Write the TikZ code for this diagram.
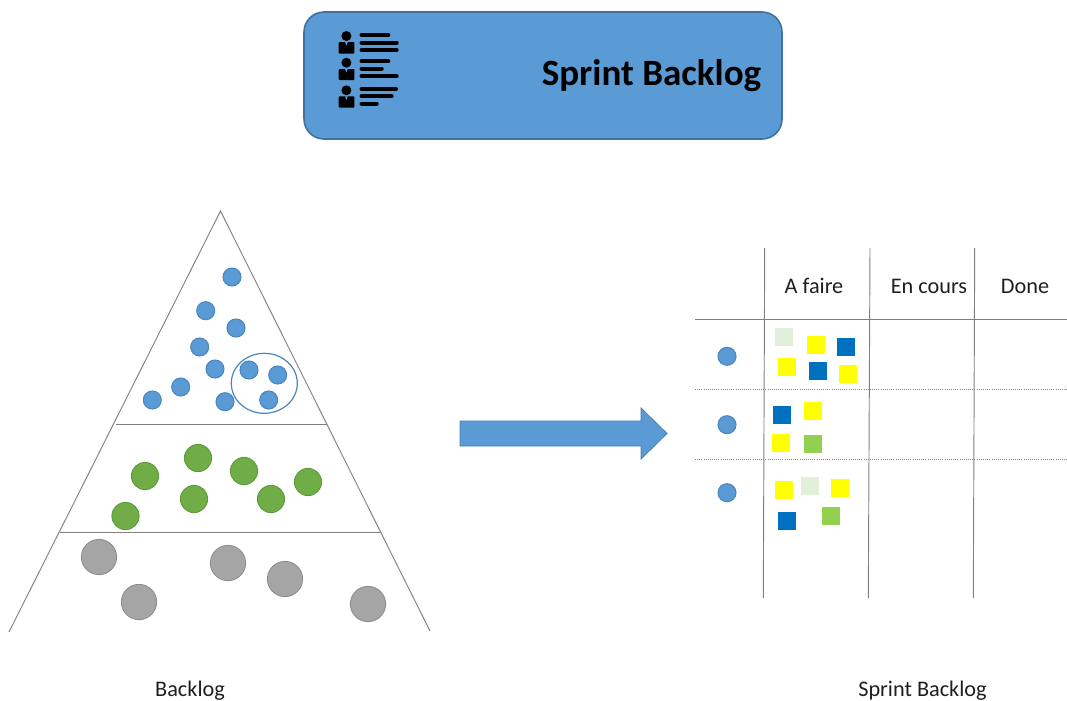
\documentclass[tikz,border=0pt]{standalone}
\usepackage{fontspec}
\setmainfont{Carlito}
\usetikzlibrary{shapes.geometric}
\definecolor{boxblue}{HTML}{5B9BD5}
\definecolor{boxedge}{HTML}{41719C}
\definecolor{dotedge}{HTML}{4A86BE}
\definecolor{greenfill}{HTML}{70AD47}
\definecolor{greenedge}{HTML}{5A9A3A}
\definecolor{greyfill}{HTML}{A5A5A5}
\definecolor{greyedge}{HTML}{8C8C8C}
\definecolor{notelight}{HTML}{E2EFDA}
\definecolor{noteyellow}{HTML}{FFFF00}
\definecolor{noteblue}{HTML}{0070C0}
\definecolor{notegreen}{HTML}{92D050}
\definecolor{linegrey}{HTML}{808080}
\tikzset{
  x=0.75pt,y=-0.75pt,
  blueitem/.style={circle,draw=dotedge,line width=0.8pt,fill=boxblue,minimum size=13.5pt,inner sep=0pt},
  greenitem/.style={circle,draw=greenedge,line width=0.6pt,fill=greenfill,minimum size=20.5pt,inner sep=0pt},
  greyitem/.style={circle,draw=greyedge,line width=0.6pt,fill=greyfill,minimum size=26.5pt,inner sep=0pt},
  note/.style={rectangle,fill=#1,minimum size=13.5pt,inner sep=0pt},
  gridline/.style={draw=linegrey,line width=0.7pt},
  rowline/.style={draw=linegrey,line width=0.6pt,densely dotted},
  tablabel/.style={font=\fontsize{16.7}{20}\selectfont,text=black!88,inner sep=0pt},
  iconline/.style={draw=black,line width=3pt,line cap=round},
}
\begin{document}
\begin{tikzpicture}
\useasboundingbox (0,0) rectangle (1067,700);
% header
\draw[boxedge,line width=1.2pt,fill=boxblue,rounded corners=15pt] (304,12) rectangle (782,139);
\node[anchor=east,font=\fontsize{27.8}{32}\selectfont\bfseries,inner sep=0pt] (title) at (761.5,76) {Sprint Backlog};
% icon
\foreach \hy/\ba/\bb/\la/\lb/\lc/\ea/\eb/\ec in {
  36/42/53.7/35/42.7/50/388.3/396.7/396.7,
  62.7/69/80/61.3/68.7/76.3/388.3/381.7/396.7,
  90.3/96.3/107.7/89/96.3/103.7/396/391.7/376.7}{
  \fill (346.4,\hy) circle[radius=5];
  \fill[rounded corners=0.6pt] (338.7,\ba) rectangle (354.3,\bb);
  \fill[boxblue] (345,\ba) -- (347.8,\ba) -- (346.4,\ba+3.5) -- cycle;
  \draw[iconline] (361.5,\la) -- (\ea,\la);
  \draw[iconline] (361.5,\lb) -- (\eb,\lb);
  \draw[iconline] (361.5,\lc) -- (\ec,\lc);
}
% pyramid
\coordinate (apex) at (220.5,211);
\coordinate (bl) at (9,632);
\coordinate (br) at (430,631);
\coordinate (l1a) at (115.5,424);
\coordinate (l1b) at (327,424);
\coordinate (l2a) at (60,532);
\coordinate (l2b) at (380.5,532);
\draw[gridline] (bl) -- (apex) -- (br);
\draw[gridline] (l1a) -- (l1b);
\draw[gridline] (l2a) -- (l2b);
\foreach \n/\px/\py in {1/232/277,2/205.7/310.7,3/236/328,4/199.7/347,5/215/369,6/249/370,7/277.7/375,8/268.7/400,9/225/401.7,10/180.7/387,11/152.3/400}
  \node[blueitem] (b\n) at (\px,\py) {};
\node[ellipse,draw=dotedge,line width=0.9pt,minimum width=49.5pt,minimum height=45pt,inner sep=0pt] (group) at (264.3,383.3) {};
\foreach \n/\px/\py in {1/145/476,2/198/458,3/244/471,4/308/482,5/125.5/516,6/194/499,7/271/499}
  \node[greenitem] (g\n) at (\px,\py) {};
\foreach \n/\px/\py in {1/99/557,2/228/563,3/285/579,4/139/602,5/368/604}
  \node[greyitem] (h\n) at (\px,\py) {};
% big arrow
\draw[boxedge!70!boxblue,line width=0.6pt,fill=boxblue] (460,421) -- (641,421) -- (641,408) -- (667,433.5) -- (641,459) -- (641,446) -- (460,446) -- cycle;
% table
\coordinate (v1t) at (764.7,248); \coordinate (v1b) at (763.3,598);
\coordinate (v2t) at (870,248);   \coordinate (v2b) at (868.3,598);
\coordinate (v3t) at (974.7,248); \coordinate (v3b) at (973.3,598);
\coordinate (r0a) at (695,319.5); \coordinate (r0b) at (1067,319.5);
\coordinate (r1a) at (695,389);   \coordinate (r1b) at (1067,389);
\coordinate (r2a) at (695,459);   \coordinate (r2b) at (1067,459);
\draw[gridline] (v1t) -- (v1b);
\draw[gridline] (v2t) -- (v2b);
\draw[gridline] (v3t) -- (v3b);
\draw[gridline] (r0a) -- (r0b);
\draw[rowline] (r1a) -- (r1b);
\draw[rowline] (r2a) -- (r2b);
\node[tablabel] (c1) at (814,286) {A faire};
\node[tablabel] (c2) at (929,286) {En cours};
\node[tablabel] (c3) at (1025,286) {Done};
\foreach \n/\py in {1/356.3,2/424.7,3/492.7}
  \node[blueitem] (s\n) at (727,\py) {};
\foreach \n/\c/\px/\py in {
  1/notelight/784.3/337.3, 2/noteyellow/816.3/345, 3/noteblue/846/347.3,
  4/noteyellow/786.7/367.3, 5/noteblue/817.7/371, 6/noteyellow/848.3/374.3,
  7/noteblue/782/415, 8/noteyellow/813.3/410.7, 9/noteyellow/781.3/443.3, 10/notegreen/813.3/444.3,
  11/noteyellow/783.7/489.7, 12/notelight/810.3/485.7, 13/noteyellow/840/487.7,
  14/noteblue/786.7/521.3, 15/notegreen/831/515.7}
  \node[note=\c] (n\n) at (\px,\py) {};
% captions
\node[tablabel] (cap1) at (190,690.5) {Backlog};
\node[tablabel] (cap2) at (922.5,690.5) {Sprint Backlog};
\end{tikzpicture}
\end{document}
